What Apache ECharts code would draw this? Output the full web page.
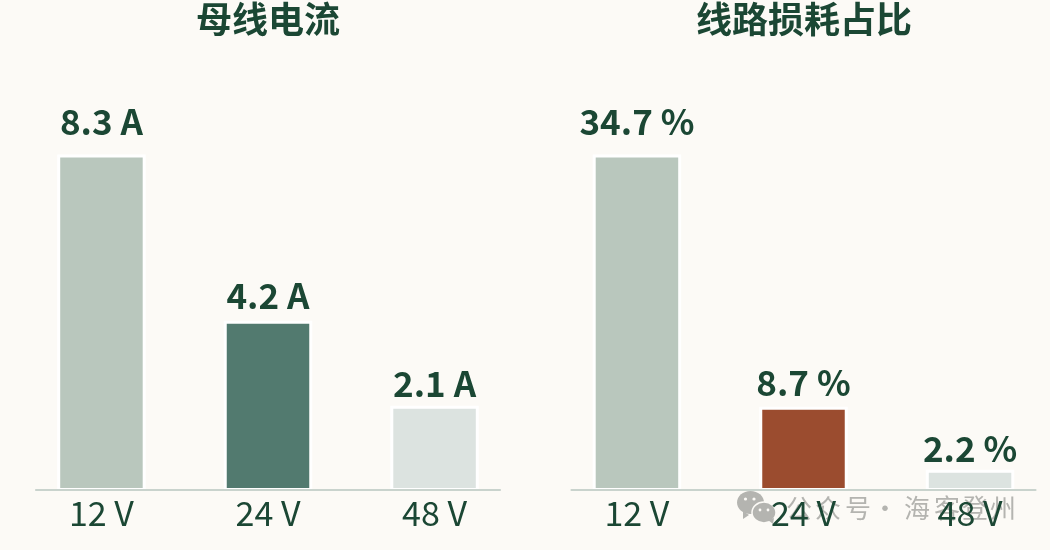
<!DOCTYPE html>
<html><head><meta charset="utf-8">
<style>html,body{margin:0;padding:0;background:#fcfaf6}#c{width:1050px;height:550px}</style>
<script src="https://cdn.jsdelivr.net/npm/echarts@6/dist/echarts.min.js"></script>
</head><body><div id="c"></div>
<script>
const voltages = ['12 V','24 V','48 V'];
const positions = [0,1,2];
const currentValues = [8.3,4.2,2.1];
const lossValues = [34.7,8.7,2.2];
const currentColors = ['#b9c7bd','#527a6f','#dce3e0'];
const lossColors = ['#b9c7bd','#9b4c2f','#dce3e0'];
const currentLabelGaps = [15,8,5];
const lossLabelGaps = [15,6,3];
const titles = ['母线电流','线路损耗占比'];
const units = [' A',' %'];
const watermarkChars = ['公','众','号','·','海','客','登','州'];
const watermarkX = [799,828,858,885,917,947,975,1003];
const FONT = '"Noto Sans CJK SC"';
const INK = '#1b4734';
const WM = '#b4b4b0';
const chart = echarts.init(document.getElementById('c'),null,{renderer:'canvas'});
function xAxis(i){return {gridIndex:i,type:'value',min:-0.393,max:2.393,z:5,offset:-1.25,
  axisLine:{show:true,onZero:false,lineStyle:{color:'#c9d3cd',width:2.2}},
  axisTick:{show:false},splitLine:{show:false},
  axisLabel:{customValues:positions,formatter:v=>voltages[Math.round(v)],color:INK,fontFamily:FONT,fontSize:34,margin:6,hideOverlap:false}};}
function yAxis(i,vals){return {gridIndex:i,type:'value',min:0,max:Math.max(...vals)*1.15,show:false};}
function series(i,vals,cols,gaps){return {type:'bar',xAxisIndex:i,yAxisIndex:i,barWidth:88.5,
  data:vals.map((v,k)=>({value:[positions[k],v],itemStyle:{color:cols[k]},label:{distance:gaps[k]}})),
  itemStyle:{borderColor:'#ffffff',borderWidth:3},
  label:{show:true,position:'top',color:INK,fontFamily:FONT,fontWeight:'bold',fontSize:35,
    formatter:p=>p.value[1]+units[i]},
  emphasis:{disabled:true},silent:true,animation:false};}
chart.setOption({
  backgroundColor:'#fcfaf6',animation:false,
  title:[
   {text:titles[0],left:263,top:-4,textAlign:'center',textStyle:{color:INK,fontFamily:FONT,fontWeight:'bold',fontSize:36}},
   {text:titles[1],left:799,top:-4,textAlign:'center',textStyle:{color:INK,fontFamily:FONT,fontWeight:'bold',fontSize:36}}],
  grid:[{left:36,width:464,top:104,height:387},{left:571.5,width:464,top:104,height:387}],
  xAxis:[xAxis(0),xAxis(1)],
  yAxis:[yAxis(0,currentValues),yAxis(1,lossValues)],
  series:[series(0,currentValues,currentColors,currentLabelGaps),series(1,lossValues,lossColors,lossLabelGaps)],
  graphic:[
   {type:'group',z:1,silent:true,children:[
    {type:'ellipse',shape:{cx:750.5,cy:502.5,rx:13.5,ry:11.5},style:{fill:WM}},
    {type:'polygon',shape:{points:[[743,511],[749,515],[743,519]]},style:{fill:WM}},
    {type:'circle',shape:{cx:745.5,cy:499,r:1.6},style:{fill:'#fcfaf6'}},
    {type:'circle',shape:{cx:754,cy:499,r:1.6},style:{fill:'#fcfaf6'}},
    {type:'ellipse',shape:{cx:764,cy:512.5,rx:12,ry:10.5},style:{fill:WM,stroke:'#fcfaf6',lineWidth:1.5}},
    {type:'polygon',shape:{points:[[768,520],[774,518],[773,524]]},style:{fill:WM}},
    {type:'circle',shape:{cx:760,cy:510,r:1.4},style:{fill:'#fcfaf6'}},
    {type:'circle',shape:{cx:768,cy:510,r:1.4},style:{fill:'#fcfaf6'}},
    ...watermarkChars.map((ch,k)=>({type:'text',x:watermarkX[k],y:508,style:{text:ch,fill:WM,fontFamily:FONT,fontSize:26,align:'center',verticalAlign:'middle'}}))
   ]}
  ]
});
</script></body></html>
